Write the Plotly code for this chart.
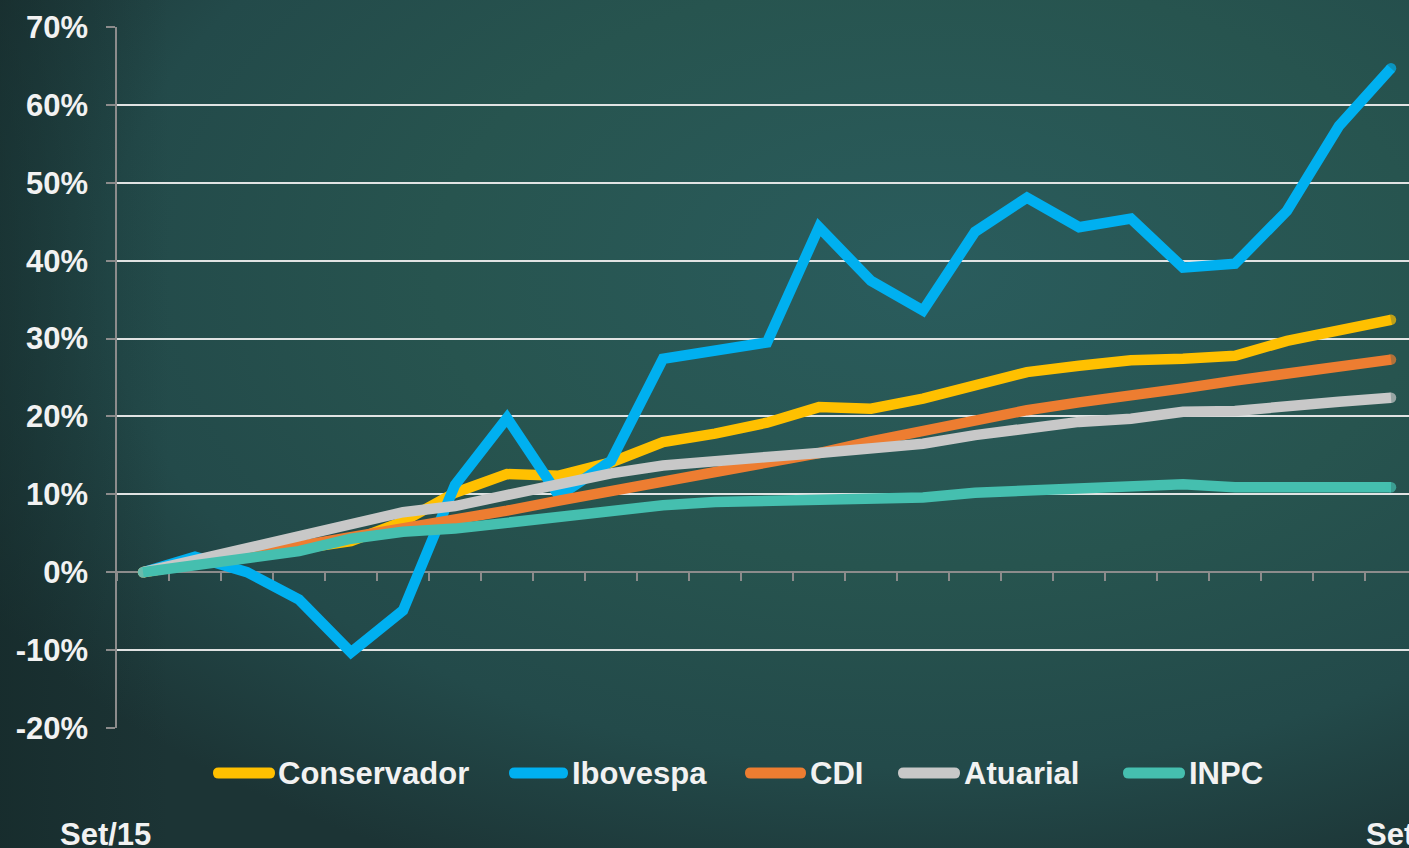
import base64
import plotly.graph_objects as go

# ---------------- data ----------------
months = ["Set/15", "Out/15", "Nov/15", "Dez/15", "Jan/16", "Fev/16", "Mar/16", "Abr/16",
          "Mai/16", "Jun/16", "Jul/16", "Ago/16", "Set/16", "Out/16", "Nov/16", "Dez/16",
          "Jan/17", "Fev/17", "Mar/17", "Abr/17", "Mai/17", "Jun/17", "Jul/17", "Ago/17", "Set/17"]

conservador = [0, 1.2, 2.3, 3.0, 4.0, 6.5, 10.2, 12.6, 12.4, 14.1, 16.7, 17.8, 19.2,
               21.2, 21.0, 22.3, 24.0, 25.7, 26.5, 27.2, 27.4, 27.8, 29.7, 31.1, 32.4]
ibovespa = [0, 2.0, 0.0, -3.5, -10.3, -4.9, 11.2, 19.8, 9.8, 14.3, 27.4, 28.6, 29.5,
            44.3, 37.4, 33.6, 43.7, 48.1, 44.3, 45.4, 39.1, 39.6, 46.4, 57.3, 64.7]
cdi = [0, 1.1, 2.2, 3.3, 4.5, 5.6, 6.7, 7.9, 9.2, 10.4, 11.6, 12.7, 13.8,
       15.3, 16.8, 18.2, 19.6, 20.8, 21.8, 22.6, 23.6, 24.6, 25.5, 26.5, 27.3]
atuarial = [0, 1.5, 3.0, 4.4, 6.2, 7.7, 8.5, 9.9, 11.5, 12.7, 13.7, 14.4, 14.8,
            15.3, 15.9, 16.5, 17.6, 18.5, 19.3, 19.7, 20.6, 20.7, 21.4, 21.9, 22.4]
inpc = [0, 0.9, 1.8, 2.7, 4.3, 5.2, 5.6, 6.4, 7.3, 7.9, 8.6, 9.0, 9.2,
        9.3, 9.4, 9.6, 10.2, 10.5, 10.8, 10.9, 11.3, 10.9, 11.0, 11.0, 10.9]

series_names = ["Conservador", "Ibovespa", "CDI", "Atuarial", "INPC"]
series_values = [conservador, ibovespa, cdi, atuarial, inpc]
series_colors = ["#FFC000", "#00B0F0", "#ED7D31", "#C8C8C8", "#45BFAF"]

y_tick_vals = [-20, -10, 0, 10, 20, 30, 40, 50, 60, 70]
y_tick_text = ["-20%", "-10%", "0%", "10%", "20%", "30%", "40%", "50%", "60%", "70%"]

# ---------------- layout constants ----------------
W, H = 1409, 848
ML, MR, MT, MB = 117, 0, 27, 120
PW, PH = W - ML - MR, H - MT - MB
CAT_PX = 52.0
YMIN, YMAX = -20, 70
FONT = "Liberation Sans, Arial, sans-serif"
TXT = "#F2F2F2"
LW = 10.5


def px_x(px):
    return (px - ML) / PW


def px_y(py):
    return (H - MB - py) / PH


fig = go.Figure()

for name, vals, col in zip(series_names, series_values, series_colors):
    sizes = [0] * len(vals)
    sizes[0] = LW
    sizes[-1] = LW
    fig.add_trace(go.Scatter(
        x=months, y=vals, name=name, mode="lines+markers",
        line=dict(color=col, width=LW),
        marker=dict(size=sizes, color=col, line=dict(width=0)),
        showlegend=False,
    ))

# background gradient (chalkboard)
svg = f"""<svg xmlns='http://www.w3.org/2000/svg' width='{W}' height='{H}' viewBox='0 0 {W} {H}' preserveAspectRatio='none'>
<defs>
<radialGradient id='g' cx='0.66' cy='0.32' r='0.78'>
<stop offset='0' stop-color='#2a5c5d'/>
<stop offset='0.45' stop-color='#27544f'/>
<stop offset='0.75' stop-color='#234a4a'/>
<stop offset='1' stop-color='#1c3435'/>
</radialGradient>
<linearGradient id='l' x1='0' y1='0' x2='1' y2='0'>
<stop offset='0' stop-color='#122424' stop-opacity='0.45'/>
<stop offset='0.12' stop-color='#122424' stop-opacity='0.0'/>
<stop offset='1' stop-color='#122424' stop-opacity='0.0'/>
</linearGradient>
</defs>
<rect width='{W}' height='{H}' fill='url(#g)'/>
<rect width='{W}' height='{H}' fill='url(#l)'/>
</svg>"""
src = "data:image/svg+xml;base64," + base64.b64encode(svg.encode()).decode()

images = [dict(source=src, xref="paper", yref="paper",
               x=px_x(0), y=px_y(0), sizex=W / PW, sizey=H / PH,
               xanchor="left", yanchor="top", sizing="stretch", layer="below")]

# custom legend
leg_lines = [(213, 275), (509, 568), (745, 806), (898, 960), (1123, 1185)]
leg_text_x = [276, 570, 808, 962, 1187]
leg_y = 773
r = 5.5


def pill(x0, x1, yc, rr):
    a, b = x0 + rr, x1 - rr
    return (f"M{a},{yc + rr} L{b},{yc + rr} Q{b + rr},{yc + rr} {b + rr},{yc} "
            f"Q{b + rr},{yc - rr} {b},{yc - rr} L{a},{yc - rr} "
            f"Q{a - rr},{yc - rr} {a - rr},{yc} Q{a - rr},{yc + rr} {a},{yc + rr} Z")


shapes = []
annotations = []
for (x0, x1), tx, name, col in zip(leg_lines, leg_text_x, series_names, series_colors):
    shapes.append(dict(type="path", xref="paper", yref="paper",
                       xsizemode="pixel", ysizemode="pixel", xanchor=0, yanchor=0,
                       path=pill(x0 - ML, x1 - ML, -(leg_y - (H - MB)), r),
                       fillcolor=col, line=dict(width=0), layer="above"))
    annotations.append(dict(text=name, xref="paper", yref="paper", x=px_x(tx), y=px_y(leg_y),
                            xanchor="left", yanchor="middle", showarrow=False,
                            font=dict(family=FONT, size=31, color=TXT, weight="bold")))

annotations.append(dict(text=months[0], xref="paper", yref="paper", x=px_x(105.5), y=px_y(834),
                        xanchor="center", yanchor="middle", showarrow=False,
                        font=dict(family=FONT, size=31, color=TXT, weight="bold")))
annotations.append(dict(text=months[-1], xref="paper", yref="paper", x=px_x(1364), y=px_y(834),
                        xanchor="left", yanchor="middle", showarrow=False,
                        font=dict(family=FONT, size=31, color=TXT, weight="bold")))

fig.update_layout(
    width=W, height=H,
    margin=dict(l=ML, r=MR, t=MT, b=MB, pad=0),
    paper_bgcolor="#214546",
    plot_bgcolor="rgba(0,0,0,0)",
    showlegend=False,
    images=images,
    shapes=shapes,
    annotations=annotations,
    xaxis=dict(
        type="category", categoryorder="array", categoryarray=months,
        range=[-0.5, PW / CAT_PX - 0.5],
        anchor="free", position=(0 - YMIN) / (YMAX - YMIN),
        showline=True, linecolor="#8C8C8C", linewidth=1.5,
        ticks="outside", tickson="boundaries", ticklen=8, tickwidth=1.5, tickcolor="#8C8C8C",
        showticklabels=False, showgrid=False, zeroline=False,
        layer="below traces", fixedrange=True,
    ),
    yaxis=dict(
        range=[YMIN, YMAX], tickvals=y_tick_vals, ticktext=y_tick_text,
        showgrid=True, gridcolor="rgba(235,235,235,0.95)", gridwidth=1.5,
        showline=True, linecolor="#8C8C8C", linewidth=1.5,
        ticks="outside", ticklen=9, tickwidth=1.5, tickcolor="#8C8C8C",
        ticklabelstandoff=12,
        tickfont=dict(family=FONT, size=31, color=TXT, weight="bold"),
        zeroline=False, automargin=False, fixedrange=True,
        layer="below traces",
    ),
)

fig.write_html(
    "out.html",
    config={"displayModeBar": False},
    post_script="document.body.style.margin='0';document.body.style.padding='0';"
                "document.body.style.overflow='hidden';"
                "document.documentElement.style.overflow='hidden';",
)
